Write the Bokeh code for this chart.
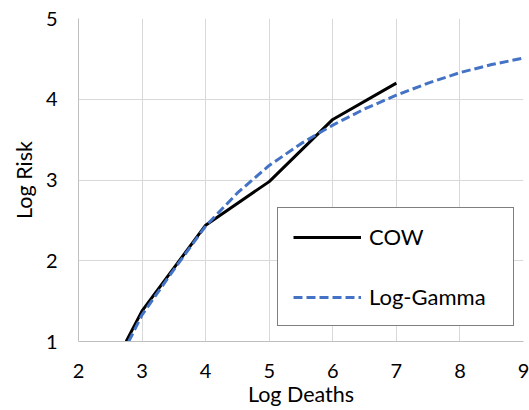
from bokeh.plotting import figure
from bokeh.models import Range1d, FixedTicker, Legend, LegendItem
from bokeh.embed import file_html
from bokeh.resources import INLINE

# COW series
cow_x = [2.75, 3.0, 4.0, 5.0, 6.0, 7.0]
cow_y = [1.0, 1.38, 2.44, 2.98, 3.75, 4.20]

# Log-Gamma series
lg_x = [2.79, 3.0, 3.5, 4.0, 4.5, 5.0, 5.5, 6.0, 6.5, 7.0, 7.5, 8.0, 8.5, 9.0]
lg_y = [1.0, 1.33, 1.89, 2.43, 2.84, 3.18, 3.45, 3.68, 3.88, 4.05, 4.20, 4.33, 4.43, 4.51]

x_ticks = [2, 3, 4, 5, 6, 7, 8, 9]
y_ticks = [1, 2, 3, 4, 5]

FONT = "Lato"

p = figure(width=529, height=410, output_backend="svg", toolbar_location=None,
           x_range=Range1d(2, 9), y_range=Range1d(1, 5),
           min_border_left=78, min_border_right=6, min_border_top=18, min_border_bottom=69)
p.outline_line_color = None
p.background_fill_color = "white"
p.border_fill_color = "white"

for ax, ticks in ((p.xaxis, x_ticks), (p.yaxis, y_ticks)):
    ax.ticker = FixedTicker(ticks=ticks)
    ax.axis_line_color = "#bfbfbf"
    ax.axis_line_width = 1
    ax.major_tick_line_color = None
    ax.minor_tick_line_color = None
    ax.major_tick_out = 0
    ax.major_tick_in = 0
    ax.minor_tick_out = 0
    ax.minor_tick_in = 0
    ax.major_label_text_font = FONT
    ax.major_label_text_font_size = "20px"
    ax.major_label_text_color = "#000000"
    ax.axis_label_text_font = FONT
    ax.axis_label_text_font_size = "21.5px"
    ax.axis_label_text_font_style = "normal"
    ax.axis_label_text_color = "#000000"

p.xaxis.axis_label = "Log Deaths"
p.yaxis.axis_label = "Log Risk"
p.xaxis.major_label_standoff = 22
p.yaxis.major_label_standoff = 21
p.xaxis.axis_label_standoff = 0
p.yaxis.axis_label_standoff = 6

p.xgrid.ticker = FixedTicker(ticks=x_ticks)
p.ygrid.ticker = FixedTicker(ticks=y_ticks)
for g in (p.xgrid, p.ygrid):
    g.grid_line_color = "#d9d9d9"
    g.grid_line_width = 1

r_cow = p.line(cow_x, cow_y, line_color="black", line_width=3)
r_lg = p.line(lg_x, lg_y, line_color="#4472c4", line_width=3, line_dash="9 4")

legend = Legend(items=[LegendItem(label="COW", renderers=[r_cow]),
                       LegendItem(label="Log-Gamma", renderers=[r_lg])],
                location=(199, 15))
legend.border_line_color = "black"
legend.border_line_width = 1.5
legend.background_fill_color = "white"
legend.background_fill_alpha = 1
legend.label_text_font = FONT
legend.label_text_font_size = "22px"
legend.label_text_color = "#000000"
legend.glyph_width = 68
legend.glyph_height = 20
legend.label_height = 20
legend.label_standoff = 8
legend.padding = 15
legend.spacing = 33
legend.margin = 0
legend.label_width = 129
p.add_layout(legend, "center")

open("out.html", "w").write(file_html(p, INLINE))
